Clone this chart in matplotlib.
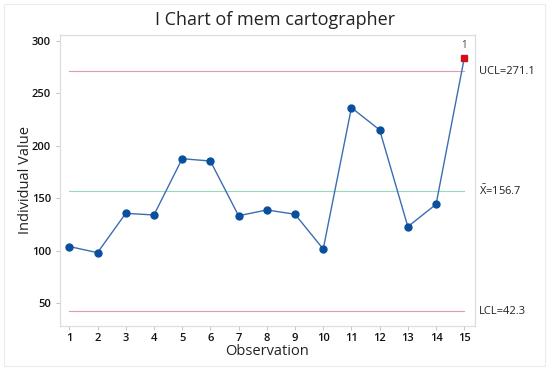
import matplotlib
matplotlib.use("Agg")
import matplotlib.pyplot as plt
from matplotlib.patches import Rectangle

obs = list(range(1, 16))
values = [104.0, 98.1, 135.6, 134.0, 187.6, 185.4, 133.3, 138.8, 134.7, 101.6,
          236.2, 215.0, 122.9, 144.2, 283.5]
ucl = 271.1
center = 156.7
lcl = 42.3
out_of_control = [15]
ucl_label = "UCL=271.1"
center_label = r"$\bar{\mathrm{X}}$=156.7"
lcl_label = "LCL=42.3"
title = "I Chart of mem cartographer"
xlabel = "Observation"
ylabel = "Individual Value"
yticks = [50, 100, 150, 200, 250, 300]

plt.rcParams['font.family'] = ['Open Sans', 'DejaVu Sans']
plt.rcParams['mathtext.fontset'] = 'custom'
plt.rcParams['mathtext.rm'] = 'Open Sans'
plt.rcParams['mathtext.it'] = 'Open Sans'

fig = plt.figure(figsize=(5.5, 3.7), dpi=100)
fig.patches.append(Rectangle((4/550, 4/370), 541/550, 362/370, transform=fig.transFigure,
                             fill=False, edgecolor='#ececec', linewidth=0.8))
ax = fig.add_axes([60/550, 44/370, 415/550, 291/370])

line_col = '#3b6eb0'
mk_col = '#0a4f9e'
ax.plot([1, 15], [ucl, ucl], color='#e29cb2', lw=0.8, zorder=1)
ax.plot([1, 15], [lcl, lcl], color='#e29cb2', lw=0.8, zorder=1)
ax.plot([1, 15], [center, center], color='#96dab8', lw=0.8, zorder=1)

ax.plot(obs, values, color=line_col, lw=1.0, zorder=2)
normal_x = [o for o in obs if o not in out_of_control]
normal_y = [v for o, v in zip(obs, values) if o not in out_of_control]
ax.plot(normal_x, normal_y, 'o', color=mk_col, ms=5, zorder=3)
for o in out_of_control:
    v = values[o - 1]
    ax.plot([o], [v], 's', color='#d0101a', ms=5, zorder=3)
    ax.annotate("1", (o, v), xytext=(0, 5), textcoords='offset points',
                ha='center', va='bottom', fontsize=7, color='#444444')

ax.set_xlim(0.67, 15.38)
ax.set_ylim(28.3, 305.4)
ax.set_xticks(obs)
ax.set_yticks(yticks)
ax.tick_params(axis='both', labelsize=8, length=3, width=0.6, color='#bbbbbb', labelcolor='#111111')
ax.tick_params(axis='x', pad=2)
for lab in ax.get_xticklabels() + ax.get_yticklabels():
    lab.set_fontweight('semibold')
for s in ax.spines.values():
    s.set_color('#dddddd')
    s.set_linewidth(0.9)

ax.set_xlabel(xlabel, fontsize=10.5, color='#222222', labelpad=0)
ax.set_ylabel(ylabel, fontsize=10.5, color='#222222', labelpad=-1)
fig.text(0.5, 1 - 20/370, title, ha='center', va='center', fontsize=13, color='#222222')

for lab, val in [(ucl_label, ucl), (center_label, center), (lcl_label, lcl)]:
    ax.text(1.01, val, lab, transform=ax.get_yaxis_transform(), ha='left', va='center',
            fontsize=8, color='#222222')

fig.savefig("out.png", dpi=100)
